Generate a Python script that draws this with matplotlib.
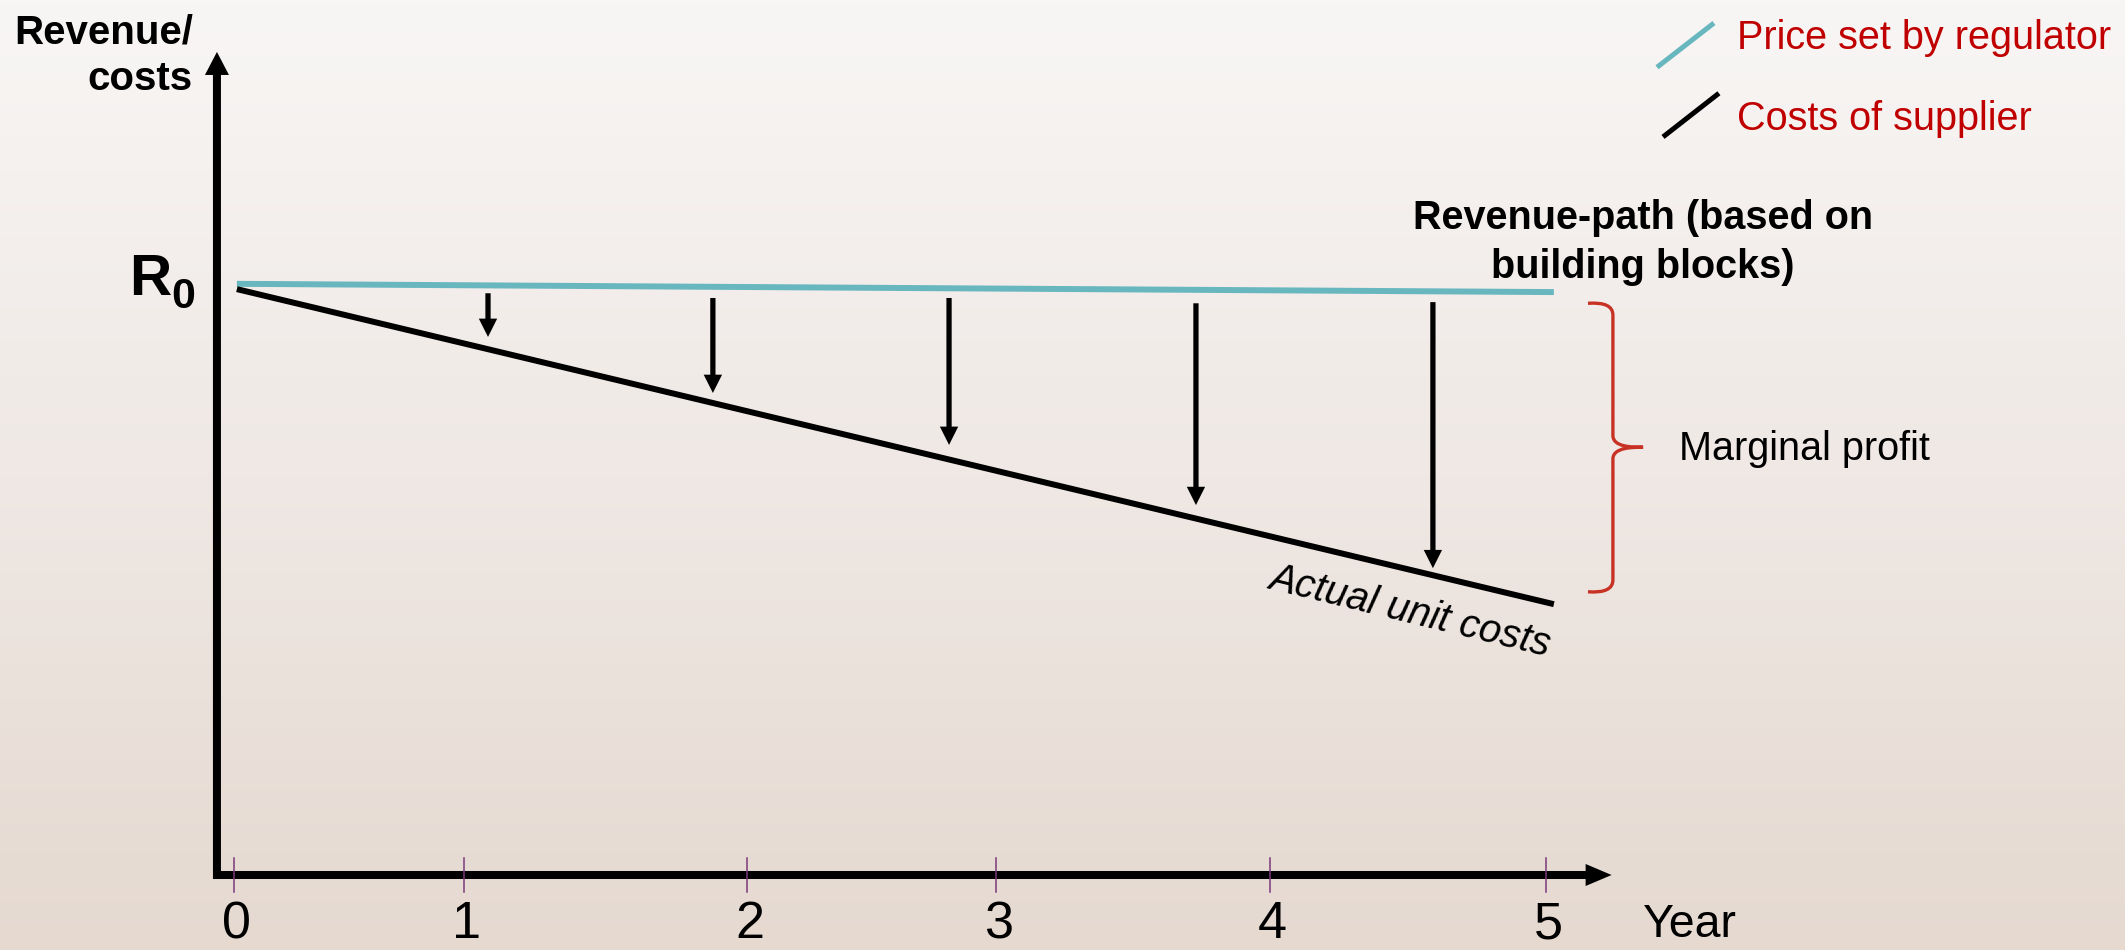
import numpy as np
import matplotlib
matplotlib.use("Agg")
import matplotlib.pyplot as plt
from matplotlib.colors import LinearSegmentedColormap
from matplotlib.path import Path
from matplotlib.patches import PathPatch

plt.rcParams['font.family'] = ['Liberation Sans', 'DejaVu Sans']

# ---------------- data ----------------
year_labels = ["0", "1", "2", "3", "4", "5"]
tick_pos = [0.0, 0.877, 1.955, 2.904, 3.948, 5.0]

line_years = [0.011, 5.03]
price_regulator = [100.2, 98.8]      # revenue path set by regulator
supplier_costs = [99.3, 45.9]        # actual unit costs

arrow_years = [0.968, 1.825, 2.725, 3.666, 4.569]
arrow_top = [98.6, 97.8, 97.8, 96.9, 97.1]
arrow_tip = [91.2, 81.7, 72.9, 62.7, 52.0]

# ---------------- styles ----------------
BLUE = '#68b7bf'
RED_TXT = '#c00000'
BRACE_RED = '#c83224'
TICK_PURPLE = '#7a3a7a'

fig = plt.figure(figsize=(21.25, 9.5), dpi=100)
ax = fig.add_axes([0, 0, 1, 1])
xlim = (-234 / 262.4, (2125 - 234) / 262.4)
ylim = ((875 - 950) / 5.9, 875 / 5.9)
ax.set_xlim(*xlim)
ax.set_ylim(*ylim)
ax.axis('off')

# background gradient
cmap = LinearSegmentedColormap.from_list('bg', ['#e5d9d0', '#efe8e4', '#f8f6f5'])
grad = np.linspace(0, 1, 256).reshape(-1, 1)
ax.imshow(grad, extent=[xlim[0], xlim[1], ylim[0], ylim[1]], origin='lower',
          aspect='auto', cmap=cmap, zorder=0)

# axes arrows
ax.arrow(-0.065, -0.68, 0, 139.5 + 0.68, width=0.0305, head_width=0.0915,
         head_length=3.9, length_includes_head=True, fc='black', ec='none', zorder=3)
ax.arrow(-0.080, 0, 5.25 + 0.080, 0, width=1.36, head_width=3.73,
         head_length=0.099, length_includes_head=True, fc='black', ec='none', zorder=3)

# ticks
for tp in tick_pos:
    ax.plot([tp, tp], [2.9, -2.9], color=TICK_PURPLE, lw=1.1, zorder=4)
for tp, lab in zip(tick_pos, year_labels):
    ax.text(tp + 0.01, ylim[0] + 0.1, lab, fontsize=37.5, ha='center', va='bottom',
            color='black')
ax.text(5.37, (875 - 937) / 5.9, "Year", fontsize=33.5, ha='left', va='baseline')

# lines
ax.plot(line_years, price_regulator, color=BLUE, lw=4.3, solid_capstyle='butt', zorder=5)
ax.plot(line_years, supplier_costs, color='black', lw=4.3, solid_capstyle='butt', zorder=5)

# down arrows
for x, t, b in zip(arrow_years, arrow_top, arrow_tip):
    ax.arrow(x, t, 0, b - t, width=0.02, head_width=0.07, head_length=3.1,
             length_includes_head=True, fc='black', ec='none', zorder=6)

# y axis label
ax.text(-0.157, (875 - 43) / 5.9, "Revenue/", fontsize=29, fontweight='bold',
        ha='right', va='baseline')
ax.text(-0.157, (875 - 90) / 5.9, "costs", fontsize=29, fontweight='bold',
        ha='right', va='baseline')

# R0
ax.text(-0.400, (875 - 295) / 5.9, "R", fontsize=42, fontweight='bold',
        ha='left', va='baseline')
ax.text(-0.240, (875 - 308) / 5.9, "0", fontsize=31, fontweight='bold',
        ha='left', va='baseline')

# revenue path label
ax.text(5.370, (875 - 229) / 5.9, "Revenue-path (based on", fontsize=28.5,
        fontweight='bold', ha='center', va='baseline')
ax.text(5.370, (875 - 278) / 5.9, "building blocks)", fontsize=28.5,
        fontweight='bold', ha='center', va='baseline')

# actual unit costs label
ax.text(4.474, 42.9, "Actual unit costs", fontsize=28.5, style='italic',
        rotation=-13.7, rotation_mode='anchor', ha='center', va='baseline')

# legend
ax.plot([5.423, 5.640], [136.9, 144.4], color=BLUE, lw=3.6, solid_capstyle='butt')
ax.plot([5.446, 5.659], [125.1, 132.5], color='black', lw=3.6, solid_capstyle='butt')
ax.text(5.728, (875 - 49) / 5.9, "Price set by regulator", fontsize=28.5,
        color=RED_TXT, ha='left', va='baseline')
ax.text(5.728, (875 - 130) / 5.9, "Costs of supplier", fontsize=28.5,
        color=RED_TXT, ha='left', va='baseline')

# brace
xt, xv, xp = 5.160, 5.255, 5.370
ytop, ymid, ybot = 96.9, 72.5, 48.0
dy = 2.0
verts = [
    (xt, ytop), (xv, ytop + 0.3), (xv, ytop - dy),
    (xv, ymid + dy),
    (xv, ymid), (xp - 0.04, ymid), (xp, ymid),
    (xp - 0.04, ymid), (xv, ymid), (xv, ymid - dy),
    (xv, ybot + dy),
    (xv, ybot - 0.3), (xt, ybot),
]
codes = [Path.MOVETO, Path.CURVE3, Path.CURVE3,
         Path.LINETO,
         Path.CURVE4, Path.CURVE4, Path.CURVE4,
         Path.CURVE4, Path.CURVE4, Path.CURVE4,
         Path.LINETO,
         Path.CURVE3, Path.CURVE3]
ax.add_patch(PathPatch(Path(verts, codes), fc='none', ec=BRACE_RED, lw=2.4, zorder=5))

ax.text(5.507, (875 - 460) / 5.9, "Marginal profit", fontsize=28.5,
        ha='left', va='baseline')

fig.savefig("out.png", dpi=100)
